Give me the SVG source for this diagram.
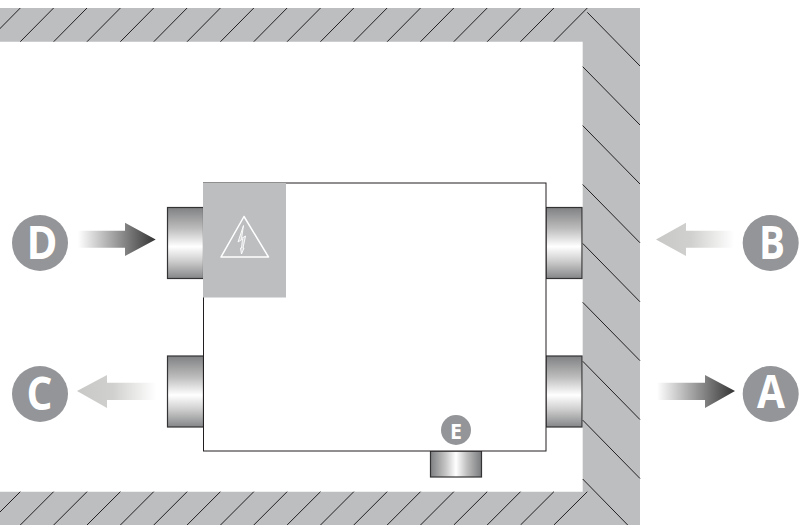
<svg xmlns="http://www.w3.org/2000/svg" width="808" height="525" viewBox="0 0 808 525">
<style>
.wall{fill:#bcbec0}
.hatch{stroke:#231f20;stroke-width:1;fill:none}
.port{stroke:#333335;stroke-width:1.2}
.box{fill:#fff;stroke:#231f20;stroke-width:1}
.bub{fill:#939598}
.lab{font-family:"Open Sans","Liberation Sans",sans-serif;font-weight:700;fill:#fff;text-anchor:middle}
.big{font-size:46px}
.small{font-size:22px}
</style>
<defs>
<linearGradient id="pv" x1="0" y1="0" x2="0" y2="1">
<stop offset="0" stop-color="#808183"/><stop offset=".3" stop-color="#bdbdbd"/><stop offset=".55" stop-color="#fff"/><stop offset=".75" stop-color="#cfcfcf"/><stop offset="1" stop-color="#858688"/>
</linearGradient>
<linearGradient id="ph" x1="0" y1="0" x2="1" y2="0">
<stop offset="0" stop-color="#7f8082"/><stop offset=".3" stop-color="#c6c6c6"/><stop offset=".5" stop-color="#fff"/><stop offset=".72" stop-color="#bdbdbd"/><stop offset="1" stop-color="#7a7b7d"/>
</linearGradient>
<linearGradient id="dark" x1="0" y1="0" x2="1" y2="0">
<stop offset="0" stop-color="#fff"/><stop offset="1" stop-color="#333"/>
</linearGradient>
<linearGradient id="lightL" x1="1" y1="0" x2="0" y2="0">
<stop offset="0" stop-color="#fff"/><stop offset=".55" stop-color="#d0d0ce"/><stop offset="1" stop-color="#c8c8c6"/>
</linearGradient>
</defs>
<g id="walls">
<path class="wall" d="M0 8H640V525H0V491.7H582.7V41.7H0Z"/>
<path class="hatch" d="M-13 41.7L20.3 8M20.3 41.7L53.6 8M53.7 41.7L87 8M87 41.7L120.4 8M120.4 41.7L153.7 8M153.8 41.7L187.1 8M187.1 41.7L220.4 8M220.5 41.7L253.8 8M253.8 41.7L287.1 8M287.1 41.7L320.5 8M320.5 41.7L353.8 8M353.8 41.7L387.1 8M387.2 41.7L420.5 8M420.5 41.7L453.8 8M453.8 41.7L487.2 8M487.2 41.7L520.5 8M520.5 41.7L553.9 8M553.9 41.7L587.3 8"/>
<path class="hatch" d="M-13 525L20.3 491.7M20.3 525L53.6 491.7M53.7 525L87 491.7M87 525L120.4 491.7M120.4 525L153.7 491.7M153.8 525L187.1 491.7M187.1 525L220.4 491.7M220.5 525L253.8 491.7M253.8 525L287.1 491.7M287.1 525L320.5 491.7M320.5 525L353.8 491.7M353.8 525L387.1 491.7M387.2 525L420.5 491.7M420.5 525L453.8 491.7M453.8 525L487.2 491.7M487.2 525L520.5 491.7M520.5 525L553.9 491.7M553.9 525L587.3 491.7"/>
<path class="hatch" d="M587.3 12.3L640 66M582.7 66.7L640 125M582.7 125.6L640 184M582.7 184.5L640 242.8M582.7 243.4L640 301.8M582.7 302.3L640 360.7M582.7 361.2L640 419.6M582.7 420.1L640 478.5M582.7 479L627.7 525"/>
</g>
<g id="port-d"><rect class="port" x="167.5" y="207.5" width="36" height="71" fill="url(#pv)"/></g>
<g id="port-c"><rect class="port" x="167.5" y="356" width="36" height="71" fill="url(#pv)"/></g>
<g id="port-b"><rect class="port" x="546" y="207.5" width="36" height="71" fill="url(#pv)"/></g>
<g id="port-a"><rect class="port" x="546" y="356" width="36" height="71" fill="url(#pv)"/></g>
<g id="port-e"><rect class="port" x="430.5" y="451" width="51" height="26" fill="url(#ph)"/></g>
<g id="unit">
<rect class="box" x="203.5" y="183" width="342.5" height="268"/>
<rect x="203" y="183" width="83" height="114.5" fill="#bcbec0"/>
<path d="M244 216.5L221 257H268.5Z" fill="none" stroke="#fff" stroke-width="1.5" stroke-linejoin="round"/>
<path d="M243.5 225.5L238 242L242.5 239L241.5 248L240.5 248L241.5 254L244 248L243 248L245.5 236L241.5 238.5Z" fill="#fff" fill-opacity=".35" stroke="#fff" stroke-width=".9" stroke-linejoin="round"/>
</g>
<g id="connectors">
<path d="M78 230.7H125V222.7L155.7 239.5L125 256V247.7H78Z" fill="url(#dark)"/>
<path d="M656 239.5L686 222.7V230.7H734V247.7H686V256Z" fill="url(#lightL)"/>
<path d="M77 391L107 375V382.7H156V400H107V408Z" fill="url(#lightL)"/>
<path d="M657 382.7H705V375L735 391L705 408V400H657Z" fill="url(#dark)"/>
</g>
<g id="node-d"><circle class="bub" cx="40" cy="243" r="28"/><text class="lab big" x="42" y="259" textLength="31" lengthAdjust="spacingAndGlyphs">D</text></g>
<g id="node-b"><circle class="bub" cx="770.7" cy="243" r="28"/><text class="lab big" x="772" y="259" textLength="26" lengthAdjust="spacingAndGlyphs">B</text></g>
<g id="node-c"><circle class="bub" cx="40" cy="394" r="28"/><text class="lab big" x="39.5" y="410" textLength="26" lengthAdjust="spacingAndGlyphs">C</text></g>
<g id="node-a"><circle class="bub" cx="770.7" cy="394" r="28"/><text class="lab big" x="771" y="408.3" textLength="28" lengthAdjust="spacingAndGlyphs">A</text></g>
<g id="node-e"><circle class="bub" cx="456" cy="430" r="15"/><text class="lab small" x="456" y="438.5" textLength="12" lengthAdjust="spacingAndGlyphs">E</text></g>
</svg>
